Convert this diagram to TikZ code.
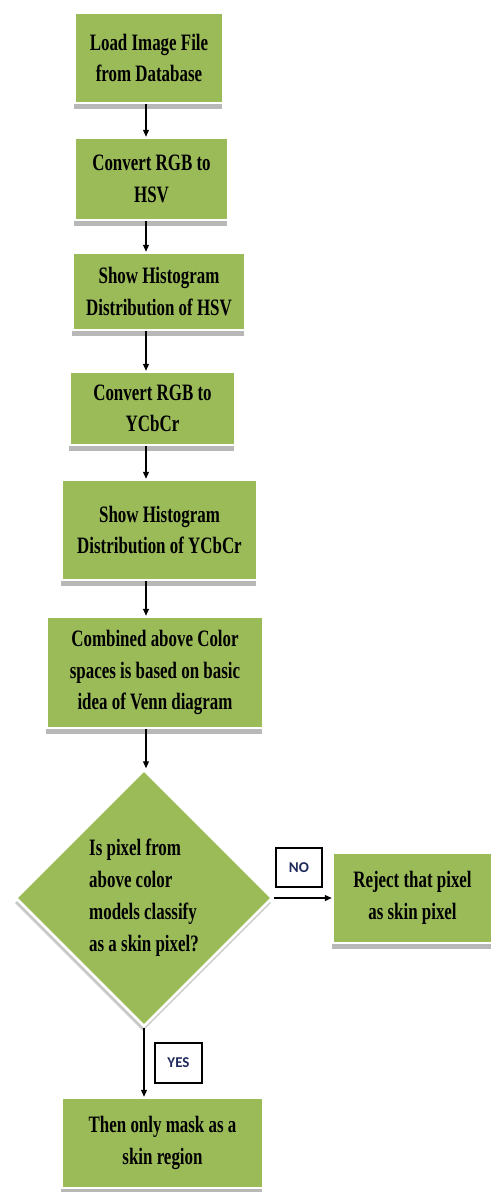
\documentclass[tikz,border=0pt]{standalone}
\usepackage{fontspec}
\setmainfont[FakeStretch=0.72]{Liberation Serif}
\newfontfamily\lblfont{Carlito}
\usetikzlibrary{shapes.geometric,arrows.meta,shadows}
\definecolor{boxgreen}{HTML}{9BBB59}
\definecolor{lblblue}{HTML}{1F2A5C}
\begin{document}
\begin{tikzpicture}[x=1pt,y=-1pt,
  box/.style={rectangle,fill=boxgreen,draw=white,line width=2.5pt,inner sep=2pt,
    align=center,font=\fontsize{23.5}{31.5}\selectfont\bfseries,
    drop shadow={shadow xshift=-1pt,shadow yshift=-6pt,fill=black!28,opacity=1}},
  decision/.style={diamond,aspect=1,fill=boxgreen,draw=white,line width=2.5pt,inner sep=0pt,
    align=left,font=\fontsize{23.5}{32}\selectfont\bfseries,minimum size=257pt,
    drop shadow={shadow xshift=-1pt,shadow yshift=-5pt,fill=black!22,opacity=1}},
  tag/.style={rectangle,fill=white,draw=black,line width=1.2pt,inner sep=0pt,
    font=\lblfont\fontsize{15}{17}\selectfont\bfseries,text=lblblue},
  arr/.style={line width=1.2pt,-{Triangle[length=7pt,width=6pt]}}]
\useasboundingbox[fill=white] (0,0) rectangle (494,1192);
\coordinate (ax) at (146,0);
\node[box,minimum width=148pt,minimum height=90pt] (b1) at (149,58) {Load Image File\\from Database};
\node[box,minimum width=153pt,minimum height=82pt] (b2) at (151.5,179) {Convert RGB to\\HSV};
\node[box,minimum width=172pt,minimum height=77pt] (b3) at (159,291.5) {Show Histogram\\Distribution of HSV};
\node[box,minimum width=165pt,minimum height=73pt] (b4) at (152.5,408.5) {Convert RGB to\\YCbCr};
\node[box,minimum width=195pt,minimum height=100pt] (b5) at (159.5,530) {Show Histogram\\Distribution of YCbCr};
\node[box,minimum width=216pt,minimum height=111pt] (b6) at (155,672.5) {Combined above Color\\spaces is based on basic\\idea of Venn diagram};
\node[decision] (dec) at (144,898) {Is pixel from\\above color\\models classify\\as a skin pixel?};
\node[box,minimum width=159pt,minimum height=90pt] (rej) at (412.5,898) {Reject that pixel\\as skin pixel};
\node[box,minimum width=201pt,minimum height=90pt] (fin) at (162.5,1143) {Then only mask as a\\skin region};
\node[tag,minimum width=46pt,minimum height=39pt] (no) at (299,867.5) {NO};
\node[tag,minimum width=47pt,minimum height=40pt] (yes) at (178.5,1063) {YES};
\draw[arr] (b1.south -| ax) -- (b2.north -| ax);
\draw[arr] (b2.south -| ax) -- (b3.north -| ax);
\draw[arr] (b3.south -| ax) -- (b4.north -| ax);
\draw[arr] (b4.south -| ax) -- (b5.north -| ax);
\draw[arr] (b5.south -| ax) -- (b6.north -| ax);
\draw[arr] (b6.south -| ax) -- (dec.north -| ax);
\draw[arr] (dec.east) -- (rej.west |- dec.east);
\draw[arr] (dec.south) -- (fin.north -| dec.south);
\end{tikzpicture}
\end{document}
